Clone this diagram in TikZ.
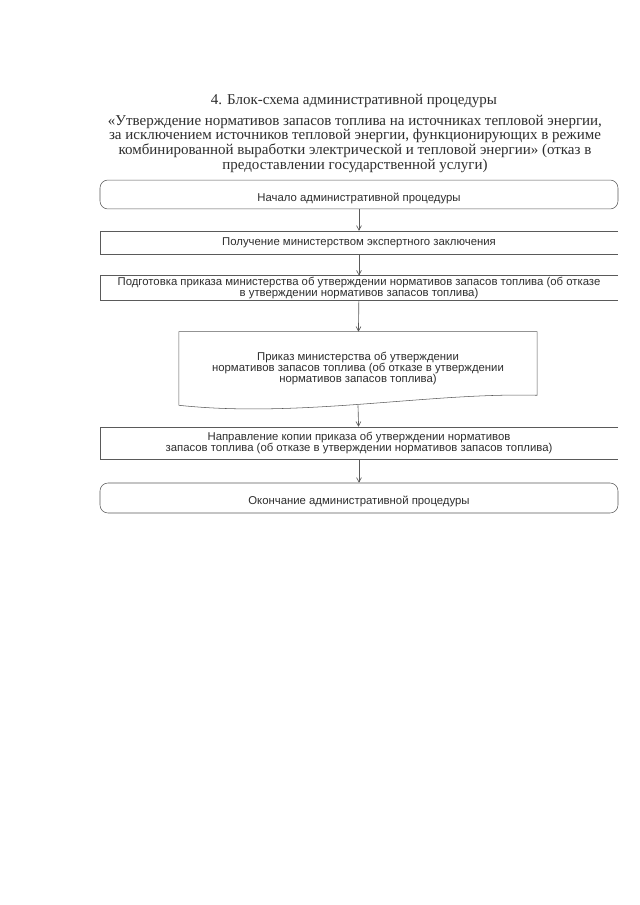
\documentclass[tikz,border=0pt]{standalone}
\usepackage{fontspec}
\setmainfont{Liberation Serif}
\setsansfont{Liberation Sans}
\usetikzlibrary{arrows.meta, positioning, calc}
\definecolor{scanline}{HTML}{5A5A5A}
\definecolor{scantext}{HTML}{2E2E2E}

\begin{document}
\begin{tikzpicture}[x=0.3282mm, y=-0.3282mm,
    boxtext/.style={font=\sffamily\fontsize{10.6}{10.2}\selectfont,
                    text=scantext, align=center, inner sep=0pt},
    stepbox/.style={boxtext, minimum width=170mm},
    endbox/.style={stepbox, draw=scanline, line width=0.5pt,
                   rounded corners=2.6mm, text height=4.5mm, text depth=0pt},
    flowarrow/.style={draw=scanline, line width=0.6pt,
                      -{Straight Barb[length=1.5mm, width=1.6mm]}},
    frameline/.style={draw=scanline, line width=0.5pt}]
  \useasboundingbox (0,0) rectangle (640,905);
  \fill[white] (0,0) rectangle (640,905);

  %% Heading ─────────────────────────────────────────────────────
  \node[font=\fontsize{14}{12.4}\selectfont, text=scantext] (title)
    at (354,101) {4. Блок-схема административной процедуры};
  \node[font=\fontsize{14}{12.4}\selectfont, text=scantext,
        align=center, anchor=north] (subtitle) at (355,111)
    {«Утверждение нормативов запасов топлива на источниках тепловой энергии,\\
     за исключением источников тепловой энергии, функционирующих в режиме\\
     комбинированной выработки электрической и тепловой энергии» (отказ в\\
     предоставлении государственной услуги)};

  %% Steps ───────────────────────────────────────────────────────
  \node[endbox, minimum height=9.5mm] (start) at (359,194.5)
    {Начало административной процедуры};
  \node[stepbox, minimum height=7.55mm] (receive) at (359,242.5)
    {Получение министерством экспертного заключения};
  \node[stepbox, minimum height=8mm] (prepare) at (359,288)
    {Подготовка приказа министерства об утверждении нормативов запасов топлива (об отказе\\
     в утверждении нормативов запасов топлива)};
  \node[boxtext, minimum width=117.5mm, minimum height=24mm] (order)
    at (358,368.5)
    {Приказ министерства об утверждении\\
     нормативов запасов топлива (об отказе в утверждении\\
     нормативов запасов топлива)};
  \node[stepbox, minimum height=10.5mm] (send) at (359,443)
    {Направление копии приказа об утверждении нормативов\\
     запасов топлива (об отказе в утверждении нормативов запасов топлива)};
  \node[endbox, minimum height=9.85mm] (finish) at (359,498)
    {Окончание административной процедуры};

  %% Open frames (right side cut off on the scan) ────────────────
  \foreach \b in {receive, prepare, send}
    \draw[frameline] (\b.north east) -- (\b.north west)
      -- (\b.south west) -- (\b.south east);
  \draw[frameline] (order.south west) -- (order.north west)
    -- (order.north east) -- ($(order.south east)+(0,-10)$)
    .. controls ($(order.south east)+(-107,-13)$)
       and ($(order.south west)+(121,13)$) .. (order.south west);

  %% Connectors ──────────────────────────────────────────────────
  \draw[flowarrow] (start) -- (receive);
  \draw[flowarrow] (receive) -- (prepare);
  \draw[flowarrow] (prepare) -- (order);
  \draw[flowarrow] (order.south) -- (send);
  \draw[flowarrow] (send) -- (finish);
\end{tikzpicture}
\end{document}
